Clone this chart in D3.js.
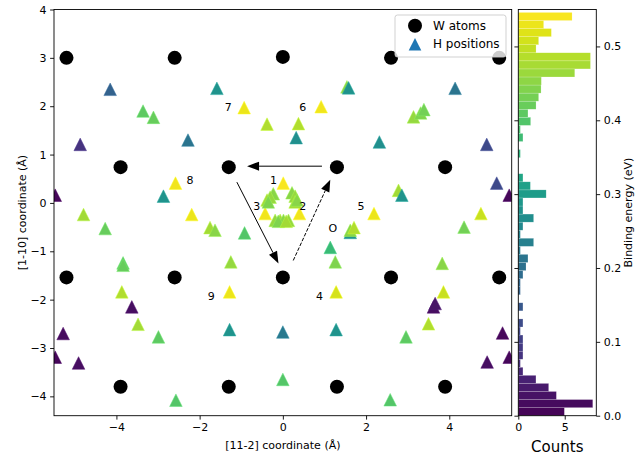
<!DOCTYPE html>
<html><head><meta charset="utf-8">
<script src="https://cdn.jsdelivr.net/npm/d3@7"></script>
<style>body{margin:0;background:#fff} svg{display:block} text{font-family:"DejaVu Sans",sans-serif;fill:#000}</style>
</head><body><svg id="c" width="635" height="457"></svg>
<script>
// ---- data ----
const wX = [-5.2, -2.6, 0, 2.6, 5.2, -3.9, -1.3, 1.3, 3.9, -5.2, -2.6, 0, 2.6, 5.2, -3.9, -1.3, 1.3, 3.9];
const wY = [3.0, 3.0, 3.02, 3.0, 3.0, 0.74, 0.74, 0.74, 0.74, -1.54, -1.54, -1.54, -1.54, -1.54, -3.80, -3.80, -3.80, -3.80];

const hX = [-4.15, -1.585, -0.93, -3.36, -3.11, -0.38, -4.87, -2.28, -2.58, -2.87, -5.47, -4.79, -2.19,
  1.54, 1.58, 4.14, 0.92, 0.375, 3.14, 3.31, 3.39, 0.32, 2.32, 4.90, 5.14, 5.44, 2.78, 2.86, 2.19, 4.76, 0.40, -0.425, 0.01,
  -0.23, -0.305, 0.22, 0.295, -0.38, -0.35, 0.295, 0.34, -0.185, -0.065, 0.015, 0.135, -0.11, 0.08,
  -0.92, -4.27, -1.75, -1.63, -3.84, -3.84, -1.25, -3.87, -1.28, -3.63, -5.28, -3.48, -2.99, -1.28, 0.0, -5.47, -4.91, 0.0, -2.57,
  1.62, 1.62, 1.71, 1.14, 1.26, 3.83, 4.355, 1.28, 3.86, 3.62, 3.66, 3.50, 2.96, 1.28, 5.28, 4.91, 5.44, 2.58];
const hY = [2.35, 2.37, 1.97, 1.90, 1.77, 1.63, 1.21, 1.30, 0.41, 0.14, 0.16, -0.24, -0.24,
  2.40, 2.38, 2.37, 1.99, 1.64, 1.78, 1.86, 1.93, 1.35, 1.26, 1.21, 0.41, 0.16, 0.26, 0.16, -0.22, -0.22, -0.22, -0.22, 0.41,
  0.19, 0.12, 0.21, 0.14, 0.06, 0.02, 0.02, 0.06, -0.36, -0.36, -0.36, -0.36, -0.38, -0.38,
  -0.62, -0.53, -0.51, -0.565, -1.24, -1.29, -1.22, -1.84, -1.84, -2.15, -2.70, -2.51, -2.77, -2.62, -2.67, -3.19, -3.31, -3.65, -4.08,
  -0.61, -0.565, -0.51, -0.92, -1.22, -1.25, -0.50, -1.84, -1.84, -2.15, -2.08, -2.50, -2.77, -2.62, -2.69, -3.29, -3.19, -4.07];
const hE = [0.17, 0.28, 0.53, 0.41, 0.42, 0.48, 0.08, 0.21, 0.535, 0.28, 0.01, 0.47, 0.53,
  0.45, 0.28, 0.21, 0.535, 0.48, 0.46, 0.44, 0.43, 0.27, 0.27, 0.12, 0.12, 0.01, 0.47, 0.28, 0.53, 0.50, 0.535, 0.535, 0.54,
  0.45, 0.46, 0.45, 0.46, 0.47, 0.44, 0.47, 0.45, 0.46, 0.47, 0.45, 0.46, 0.44, 0.47,
  0.40, 0.42, 0.47, 0.45, 0.41, 0.42, 0.46, 0.48, 0.53, 0.02, 0.015, 0.47, 0.41, 0.28, 0.22, 0.01, 0.02, 0.40, 0.40,
  0.28, 0.45, 0.48, 0.37, 0.44, 0.45, 0.43, 0.51, 0.50, 0.02, 0.03, 0.48, 0.41, 0.28, 0.01, 0.02, 0.01, 0.40];

const labelText = ["1", "2", "3", "4", "5", "6", "7", "8", "9", "O"];
const labelX = [-0.226, 0.48, -0.625, 0.88, 1.88, 0.48, -1.31, -2.23, -1.72, 1.20];
const labelY = [0.47, -0.083, -0.068, -1.93, -0.083, 1.97, 1.98, 0.47, -1.93, -0.53];

const arrowX1 = [0.94, -1.105, 0.25];
const arrowY1 = [0.76, 0.43, -1.19];
const arrowX2 = [-0.86, -0.105, 1.14];
const arrowY2 = [0.76, -1.25, 0.48];
const arrowDashed = [false, false, true];

const histMin = 0, histMax = 0.546;
const histCounts = [4.96, 8.02, 4.1, 3.27, 1.9, 0.5, 0.22, 0.5, 0.5, 0.5,
  0.22, 0.5, 0, 0.5, 0, 0.22, 0.22, 0.5, 0.83, 1.04,
  0.22, 1.65, 0.22, 0.5, 1.65, 0.5, 0.5, 3.0, 1.3, 0.5,
  0, 0, 0.22, 0, 0.5, 0.22, 1.33, 1.04, 1.91, 2.19,
  2.45, 2.48, 6.08, 7.77, 7.77, 1.91, 2.19, 3.56, 2.73, 5.79];

const xTicks = [-4, -2, 0, 2, 4];
const yTicks = [-4, -3, -2, -1, 0, 1, 2, 3, 4];
const eTicks = [0.0, 0.1, 0.2, 0.3, 0.4, 0.5];
const cTicks = [0, 5];

// ---- layout ----
const svg = d3.select("#c");
const L = 54, R = 511.7, T = 9.5, B = 415.7;
const HL = 518.3, HR = 596.3;
const x = d3.scaleLinear().domain([-5.5, 5.5]).range([L, R]);
const y = d3.scaleLinear().domain([-4.4, 4]).range([B, T]);
const hy = d3.scaleLinear().domain([0, 0.55]).range([B, T]);
const hx = d3.scaleLinear().domain([0, 8.4]).range([HL, HR]);
const color = d3.scaleSequential(d3.interpolateViridis).domain([histMin, histMax]);

svg.append("defs").append("clipPath").attr("id", "clipMain")
  .append("rect").attr("x", L).attr("y", T).attr("width", R - L).attr("height", B - T);

const plot = svg.append("g").attr("clip-path", "url(#clipMain)");

// W atoms
plot.selectAll("circle.w").data(wX).join("circle")
  .attr("cx", (d, i) => x(d)).attr("cy", (d, i) => y(wY[i])).attr("r", 7).attr("fill", "#000");

// H positions
const tri = "M0,-6.3L6.3,6.3L-6.3,6.3Z";
plot.selectAll("path.h").data(hX).join("path")
  .attr("d", tri)
  .attr("transform", (d, i) => `translate(${x(d)},${y(hY[i])})`)
  .attr("fill", (d, i) => color(hE[i]))
  .attr("stroke", (d, i) => d3.color(color(hE[i])).brighter(0.4))
  .attr("stroke-width", 0.5);

// arrows
arrowX1.forEach((ax, i) => {
  const x1 = x(ax), y1 = y(arrowY1[i]), x2 = x(arrowX2[i]), y2 = y(arrowY2[i]);
  const dx = x2 - x1, dy = y2 - y1, len = Math.hypot(dx, dy);
  const ux = dx / len, uy = dy / len, hl = 12, hw = 4.5;
  const bx = x2 - ux * hl, by = y2 - uy * hl;
  plot.append("line").attr("x1", x1).attr("y1", y1).attr("x2", bx).attr("y2", by)
    .attr("stroke", "#000").attr("stroke-width", 1)
    .attr("stroke-dasharray", arrowDashed[i] ? "3.7,1.6" : null);
  plot.append("path")
    .attr("d", `M${x2},${y2}L${bx - uy * hw},${by + ux * hw}L${bx + uy * hw},${by - ux * hw}Z`)
    .attr("fill", "#000");
});

// labels
plot.selectAll("text.lab").data(labelText).join("text")
  .attr("x", (d, i) => x(labelX[i])).attr("y", (d, i) => y(labelY[i]))
  .attr("text-anchor", "middle").attr("dominant-baseline", "central")
  .attr("font-size", 11).text(d => d);

// axes main
const fmtInt = d3.format("d");
const axX = svg.append("g").attr("transform", `translate(0,${B})`)
  .call(d3.axisBottom(x).tickValues(xTicks).tickFormat(fmtInt).tickSizeOuter(0).tickSize(3.9).tickPadding(3.5));
const axY = svg.append("g").attr("transform", `translate(${L},0)`)
  .call(d3.axisLeft(y).tickValues(yTicks).tickFormat(fmtInt).tickSizeOuter(0).tickSize(3.9).tickPadding(3.5));
[axX, axY].forEach(a => { a.select(".domain").remove(); a.selectAll("text").attr("font-size", 11).attr("font-family", "DejaVu Sans"); a.selectAll("line").attr("stroke-width", 0.9); });
svg.append("rect").attr("x", L).attr("y", T).attr("width", R - L).attr("height", B - T)
  .attr("fill", "none").attr("stroke", "#000").attr("stroke-width", 0.9);

svg.append("text").attr("x", (L + R) / 2).attr("y", 449).attr("text-anchor", "middle")
  .attr("font-size", 11).text("[11-2] coordinate (Å)");
svg.append("text").attr("transform", `translate(26,${(T + B) / 2}) rotate(-90)`).attr("text-anchor", "middle")
  .attr("font-size", 11).text("[1-10] coordinate (Å)");

// legend
const lg = svg.append("g");
lg.append("rect").attr("x", 395).attr("y", 15).attr("width", 111).attr("height", 42).attr("rx", 2.5)
  .attr("fill", "#fff").attr("fill-opacity", 0.8).attr("stroke", "#cccccc").attr("stroke-width", 0.9);
lg.append("circle").attr("cx", 415).attr("cy", 25.7).attr("r", 7).attr("fill", "#000");
lg.append("path").attr("d", tri).attr("transform", "translate(415,44.3)").attr("fill", "#1f77b4");
lg.append("text").attr("x", 433).attr("y", 25.7).attr("dominant-baseline", "central").attr("font-size", 12).text("W atoms");
lg.append("text").attr("x", 433).attr("y", 44.3).attr("dominant-baseline", "central").attr("font-size", 12).text("H positions");

// histogram
const binW = (histMax - histMin) / histCounts.length;
const hg = svg.append("g");
hg.selectAll("rect").data(histCounts).join("rect")
  .attr("x", hx(0))
  .attr("y", (d, i) => hy(histMin + (i + 1) * binW))
  .attr("width", d => hx(d) - hx(0))
  .attr("height", (d, i) => hy(histMin + i * binW) - hy(histMin + (i + 1) * binW))
  .attr("fill", (d, i) => color(histMin + (i + 0.5) * binW))
  .attr("stroke", "#fff").attr("stroke-opacity", 0.35).attr("stroke-width", 0.5);

const fmtE = d3.format(".1f");
const axHX = svg.append("g").attr("transform", `translate(0,${B})`)
  .call(d3.axisBottom(hx).tickValues(cTicks).tickFormat(fmtInt).tickSizeOuter(0).tickSize(3.9).tickPadding(3.5));
const axHR = svg.append("g").attr("transform", `translate(${HR},0)`)
  .call(d3.axisRight(hy).tickValues(eTicks).tickFormat(fmtE).tickSizeOuter(0).tickSize(3.9).tickPadding(3.5));
const axHL = svg.append("g").attr("transform", `translate(${HL},0)`)
  .call(d3.axisLeft(hy).tickValues(eTicks).tickFormat("").tickSizeOuter(0).tickSize(3.9));
[axHX, axHR, axHL].forEach(a => { a.select(".domain").remove(); a.selectAll("text").attr("font-size", 11).attr("font-family", "DejaVu Sans"); a.selectAll("line").attr("stroke-width", 0.9); });
svg.append("rect").attr("x", HL).attr("y", T).attr("width", HR - HL).attr("height", B - T)
  .attr("fill", "none").attr("stroke", "#000").attr("stroke-width", 0.9);

svg.append("text").attr("x", (HL + HR) / 2).attr("y", 452).attr("text-anchor", "middle")
  .attr("font-size", 15).text("Counts");
svg.append("text").attr("transform", `translate(632,${(T + B) / 2}) rotate(-90)`).attr("text-anchor", "middle")
  .attr("font-size", 11).text("Binding energy (eV)");
</script></body></html>
